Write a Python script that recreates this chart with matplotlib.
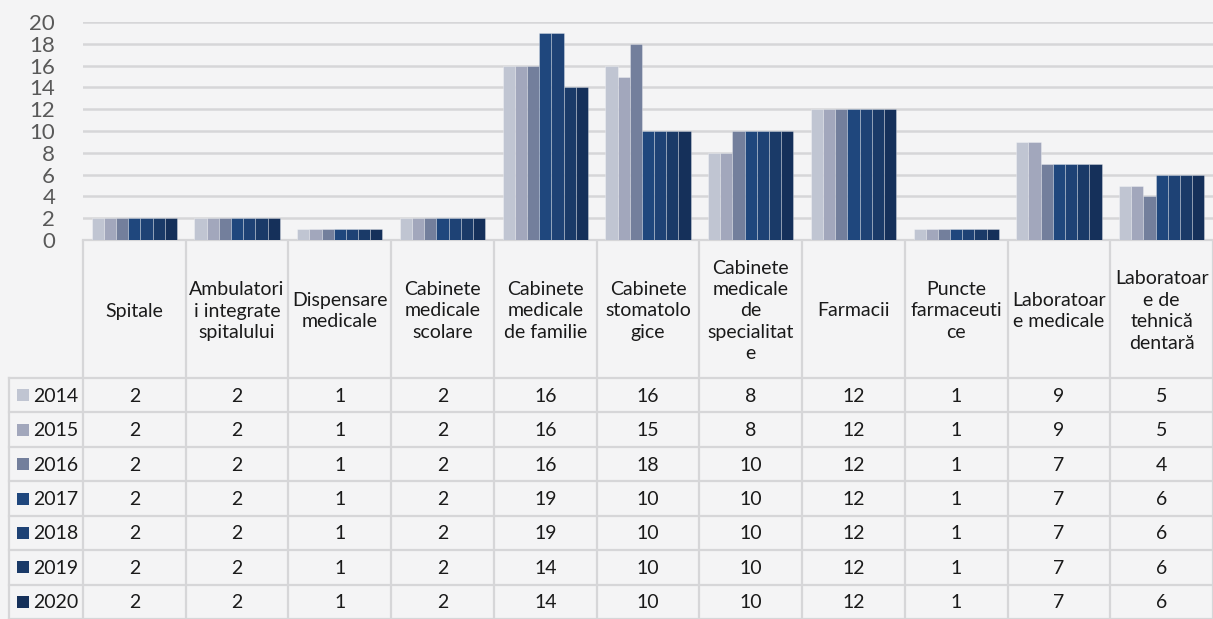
import matplotlib
matplotlib.use("Agg")
import matplotlib.pyplot as plt
import numpy as np

categories = ["Spitale", "Ambulatori\ni integrate\nspitalului", "Dispensare\nmedicale",
              "Cabinete\nmedicale\nscolare", "Cabinete\nmedicale\nde familie",
              "Cabinete\nstomatolo\ngice", "Cabinete\nmedicale\nde\nspecialitat\ne",
              "Farmacii", "Puncte\nfarmaceuti\nce", "Laboratoar\ne medicale",
              "Laboratoar\ne de\ntehnică\ndentară"]
years = ["2014", "2015", "2016", "2017", "2018", "2019", "2020"]
v2014 = [2, 2, 1, 2, 16, 16, 8, 12, 1, 9, 5]
v2015 = [2, 2, 1, 2, 16, 15, 8, 12, 1, 9, 5]
v2016 = [2, 2, 1, 2, 16, 18, 10, 12, 1, 7, 4]
v2017 = [2, 2, 1, 2, 19, 10, 10, 12, 1, 7, 6]
v2018 = [2, 2, 1, 2, 19, 10, 10, 12, 1, 7, 6]
v2019 = [2, 2, 1, 2, 14, 10, 10, 12, 1, 7, 6]
v2020 = [2, 2, 1, 2, 14, 10, 10, 12, 1, 7, 6]
series = [v2014, v2015, v2016, v2017, v2018, v2019, v2020]
colors = ["#C0C5D2", "#A2A7BC", "#737F9C", "#1F477D", "#1E4275", "#1A3A68", "#15305A"]
yticks = [0, 2, 4, 6, 8, 10, 12, 14, 16, 18, 20]

W, H = 1213, 619
font = ["Lato", "DejaVu Sans"]
plt.rcParams["font.family"] = font

fig = plt.figure(figsize=(W / 100, H / 100), dpi=100)
fig.patch.set_facecolor("#F4F4F5")

# ---- table axes (pixel coordinates) ----
tab = fig.add_axes([0, 0, 1, 1])
tab.set_xlim(0, W)
tab.set_ylim(H, 0)
tab.axis("off")
tab.patch.set_alpha(0)

x0, x1 = 83, 1213
n = len(categories)
cw = (x1 - x0) / n
ytop, yhead = 240, 378
rh = (H - yhead) / len(years)
gc = "#D6D6D8"
lw = 1.6
fs = 14

# header verticals
for i in range(n + 1):
    tab.plot([x0 + i * cw, x0 + i * cw], [ytop, H], color=gc, lw=lw, solid_capstyle="butt")
# legend column left edge
tab.plot([9, 9], [yhead, H], color=gc, lw=lw)
# horizontal row lines
for j in range(len(years) + 1):
    y = yhead + j * rh
    tab.plot([9, x1], [y, y], color=gc, lw=lw)

for i, c in enumerate(categories):
    tab.text(x0 + (i + 0.5) * cw, (ytop + yhead) / 2 + 2, c, ha="center", va="center",
             fontsize=fs, color="#1A1A1A", linespacing=1.32)

for j, (yr, vals, col) in enumerate(zip(years, series, colors)):
    yc = yhead + (j + 0.5) * rh
    tab.add_patch(plt.Rectangle((17, yc - 6), 12, 12, color=col, lw=0))
    tab.text(33, yc + 1, yr, ha="left", va="center", fontsize=fs, color="#1A1A1A")
    for i, v in enumerate(vals):
        tab.text(x0 + (i + 0.5) * cw, yc + 1, str(v), ha="center", va="center",
                 fontsize=fs, color="#1A1A1A")

# ---- bar axes ----
ax = fig.add_axes([x0 / W, (H - ytop) / H, (x1 - x0) / W, (ytop - 22) / H])
ax.patch.set_alpha(0)
ax.set_ylim(0, 20)
ax.set_xlim(-0.5, n - 0.5)
nb = len(series)
bw = 0.83 / nb
xs = np.arange(n)
for k, (vals, col) in enumerate(zip(series, colors)):
    ax.bar(xs - 0.415 + (k + 0.5) * bw, vals, width=bw, color=col,
           edgecolor=(1, 1, 1, 0.35), linewidth=0.6, zorder=3)
ax.set_yticks(yticks)
ax.set_yticklabels([str(t) for t in yticks], fontsize=16, color="#595959")
ax.tick_params(axis="y", length=0, pad=20)
ax.set_xticks([])
ax.yaxis.grid(True, color=gc, lw=1.8, zorder=0)
for s in ["top", "right", "left"]:
    ax.spines[s].set_visible(False)
ax.spines["bottom"].set_color(gc)
ax.spines["bottom"].set_linewidth(lw)

fig.savefig("out.png", dpi=100, facecolor=fig.get_facecolor())
